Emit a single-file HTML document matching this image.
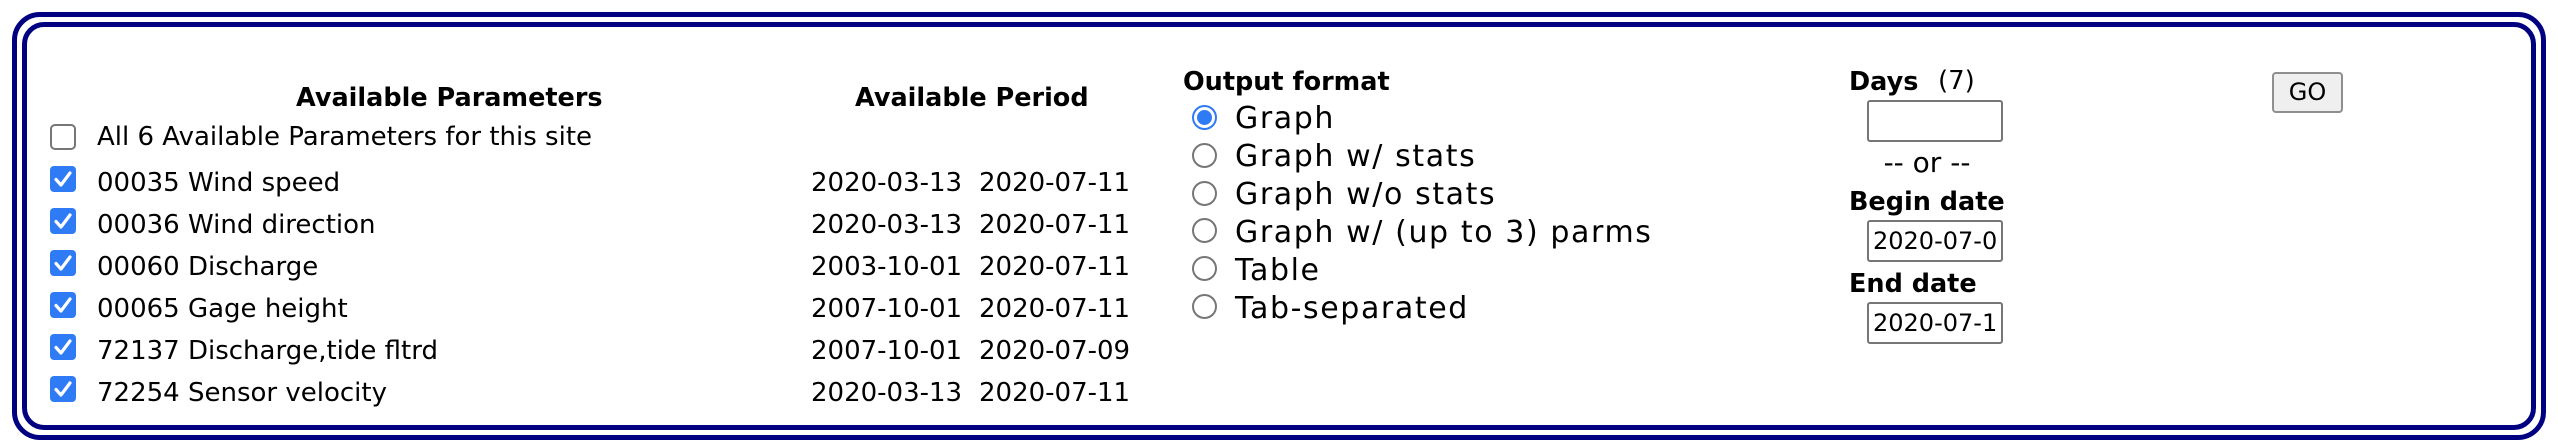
<!DOCTYPE html>
<html><head><meta charset="utf-8"><style>
html,body{margin:0;padding:0;background:#fff;}
body{width:2558px;height:448px;position:relative;overflow:hidden;font-family:"DejaVu Sans","Liberation Sans",sans-serif;color:#000;}
.a{position:absolute;white-space:nowrap;}
.t{font-size:26px;line-height:26px;}
.b{font-size:25.5px;line-height:25px;font-weight:bold;}
.r{font-size:30px;line-height:30px;letter-spacing:1.6px;}
.outer{position:absolute;left:12px;top:12px;width:2524px;height:418px;border:5px solid #000080;border-radius:28px;}
.inner{position:absolute;left:22px;top:22px;width:2504px;height:398px;border:5px solid #000080;border-radius:22px;}
.cb{position:absolute;width:26px;height:26px;}
.rd{position:absolute;width:25px;height:25px;}
.inp{position:absolute;left:1867px;border:2px solid #767676;border-radius:3px;background:#fff;overflow:hidden;font-size:24px;line-height:38px;padding-left:4px;box-sizing:border-box;width:136px;height:42px;white-space:nowrap;}
.go{position:absolute;left:2272px;top:72px;width:71px;height:41px;box-sizing:border-box;border:2px solid #8f8f8f;border-radius:4px;background:#efefef;font-size:24px;line-height:37px;text-align:center;}
</style></head><body>
<div class="outer"></div>
<div class="inner"></div>

<div class="a b" style="left:296px;top:86px;">Available Parameters</div>
<div class="a b" style="left:855px;top:86px;">Available Period</div>

<svg class="cb" style="left:50px;top:124px" viewBox="0 0 26 26"><rect x="1" y="1" width="24" height="24" rx="4" fill="#fff" stroke="#767676" stroke-width="2"/></svg>
<div class="a t" style="left:97px;top:124px;">All 6 Available Parameters for this site</div>

<svg class="cb" style="left:50px;top:166px" viewBox="0 0 26 26"><rect width="26" height="26" rx="4" fill="#2f7bf5"/><path d="M6 13.5 L11 19 L20 7" fill="none" stroke="#fff" stroke-width="3.2" stroke-linecap="round" stroke-linejoin="round"/></svg>
<svg class="cb" style="left:50px;top:208px" viewBox="0 0 26 26"><rect width="26" height="26" rx="4" fill="#2f7bf5"/><path d="M6 13.5 L11 19 L20 7" fill="none" stroke="#fff" stroke-width="3.2" stroke-linecap="round" stroke-linejoin="round"/></svg>
<svg class="cb" style="left:50px;top:250px" viewBox="0 0 26 26"><rect width="26" height="26" rx="4" fill="#2f7bf5"/><path d="M6 13.5 L11 19 L20 7" fill="none" stroke="#fff" stroke-width="3.2" stroke-linecap="round" stroke-linejoin="round"/></svg>
<svg class="cb" style="left:50px;top:292px" viewBox="0 0 26 26"><rect width="26" height="26" rx="4" fill="#2f7bf5"/><path d="M6 13.5 L11 19 L20 7" fill="none" stroke="#fff" stroke-width="3.2" stroke-linecap="round" stroke-linejoin="round"/></svg>
<svg class="cb" style="left:50px;top:334px" viewBox="0 0 26 26"><rect width="26" height="26" rx="4" fill="#2f7bf5"/><path d="M6 13.5 L11 19 L20 7" fill="none" stroke="#fff" stroke-width="3.2" stroke-linecap="round" stroke-linejoin="round"/></svg>
<svg class="cb" style="left:50px;top:376px" viewBox="0 0 26 26"><rect width="26" height="26" rx="4" fill="#2f7bf5"/><path d="M6 13.5 L11 19 L20 7" fill="none" stroke="#fff" stroke-width="3.2" stroke-linecap="round" stroke-linejoin="round"/></svg>

<div class="a t" style="left:97px;top:170px;">00035 Wind speed</div>
<div class="a t" style="left:97px;top:212px;">00036 Wind direction</div>
<div class="a t" style="left:97px;top:254px;">00060 Discharge</div>
<div class="a t" style="left:97px;top:296px;">00065 Gage height</div>
<div class="a t" style="left:97px;top:338px;">72137 Discharge,tide fltrd</div>
<div class="a t" style="left:97px;top:380px;">72254 Sensor velocity</div>

<div class="a t" style="left:811px;top:170px;">2020-03-13</div><div class="a t" style="left:979px;top:170px;">2020-07-11</div>
<div class="a t" style="left:811px;top:212px;">2020-03-13</div><div class="a t" style="left:979px;top:212px;">2020-07-11</div>
<div class="a t" style="left:811px;top:254px;">2003-10-01</div><div class="a t" style="left:979px;top:254px;">2020-07-11</div>
<div class="a t" style="left:811px;top:296px;">2007-10-01</div><div class="a t" style="left:979px;top:296px;">2020-07-11</div>
<div class="a t" style="left:811px;top:338px;">2007-10-01</div><div class="a t" style="left:979px;top:338px;">2020-07-09</div>
<div class="a t" style="left:811px;top:380px;">2020-03-13</div><div class="a t" style="left:979px;top:380px;">2020-07-11</div>

<div class="a b" style="left:1183px;top:70px;">Output format</div>
<svg class="rd" style="left:1192px;top:105px" viewBox="0 0 25 25"><circle cx="12.5" cy="12.5" r="11.5" fill="#fff" stroke="#2f7bf5" stroke-width="2"/><circle cx="12.5" cy="12.5" r="7.5" fill="#2f7bf5"/></svg>
<svg class="rd" style="left:1192px;top:143px" viewBox="0 0 25 25"><circle cx="12.5" cy="12.5" r="11.5" fill="#fff" stroke="#767676" stroke-width="2"/></svg>
<svg class="rd" style="left:1192px;top:181px" viewBox="0 0 25 25"><circle cx="12.5" cy="12.5" r="11.5" fill="#fff" stroke="#767676" stroke-width="2"/></svg>
<svg class="rd" style="left:1192px;top:218px" viewBox="0 0 25 25"><circle cx="12.5" cy="12.5" r="11.5" fill="#fff" stroke="#767676" stroke-width="2"/></svg>
<svg class="rd" style="left:1192px;top:256px" viewBox="0 0 25 25"><circle cx="12.5" cy="12.5" r="11.5" fill="#fff" stroke="#767676" stroke-width="2"/></svg>
<svg class="rd" style="left:1192px;top:294px" viewBox="0 0 25 25"><circle cx="12.5" cy="12.5" r="11.5" fill="#fff" stroke="#767676" stroke-width="2"/></svg>
<div class="a r" style="left:1235px;top:104px;">Graph</div>
<div class="a r" style="left:1235px;top:142px;">Graph w/ stats</div>
<div class="a r" style="left:1235px;top:180px;">Graph w/o stats</div>
<div class="a r" style="left:1235px;top:218px;">Graph w/ (up to 3) parms</div>
<div class="a r" style="left:1235px;top:256px;">Table</div>
<div class="a r" style="left:1235px;top:294px;">Tab-separated</div>

<div class="a b" style="left:1849px;top:70px;">Days</div>
<div class="a t" style="left:1938px;top:68px;font-size:26px;">(7)</div>
<div class="inp" style="top:100px;"></div>
<div class="a t" style="left:1871px;top:150px;font-size:28px;width:112px;text-align:center;">-- or --</div>
<div class="a b" style="left:1849px;top:190px;">Begin date</div>
<div class="inp" style="top:220px;">2020-07-0</div>
<div class="a b" style="left:1849px;top:272px;">End date</div>
<div class="inp" style="top:302px;">2020-07-1</div>

<div class="go">GO</div>
</body></html>
